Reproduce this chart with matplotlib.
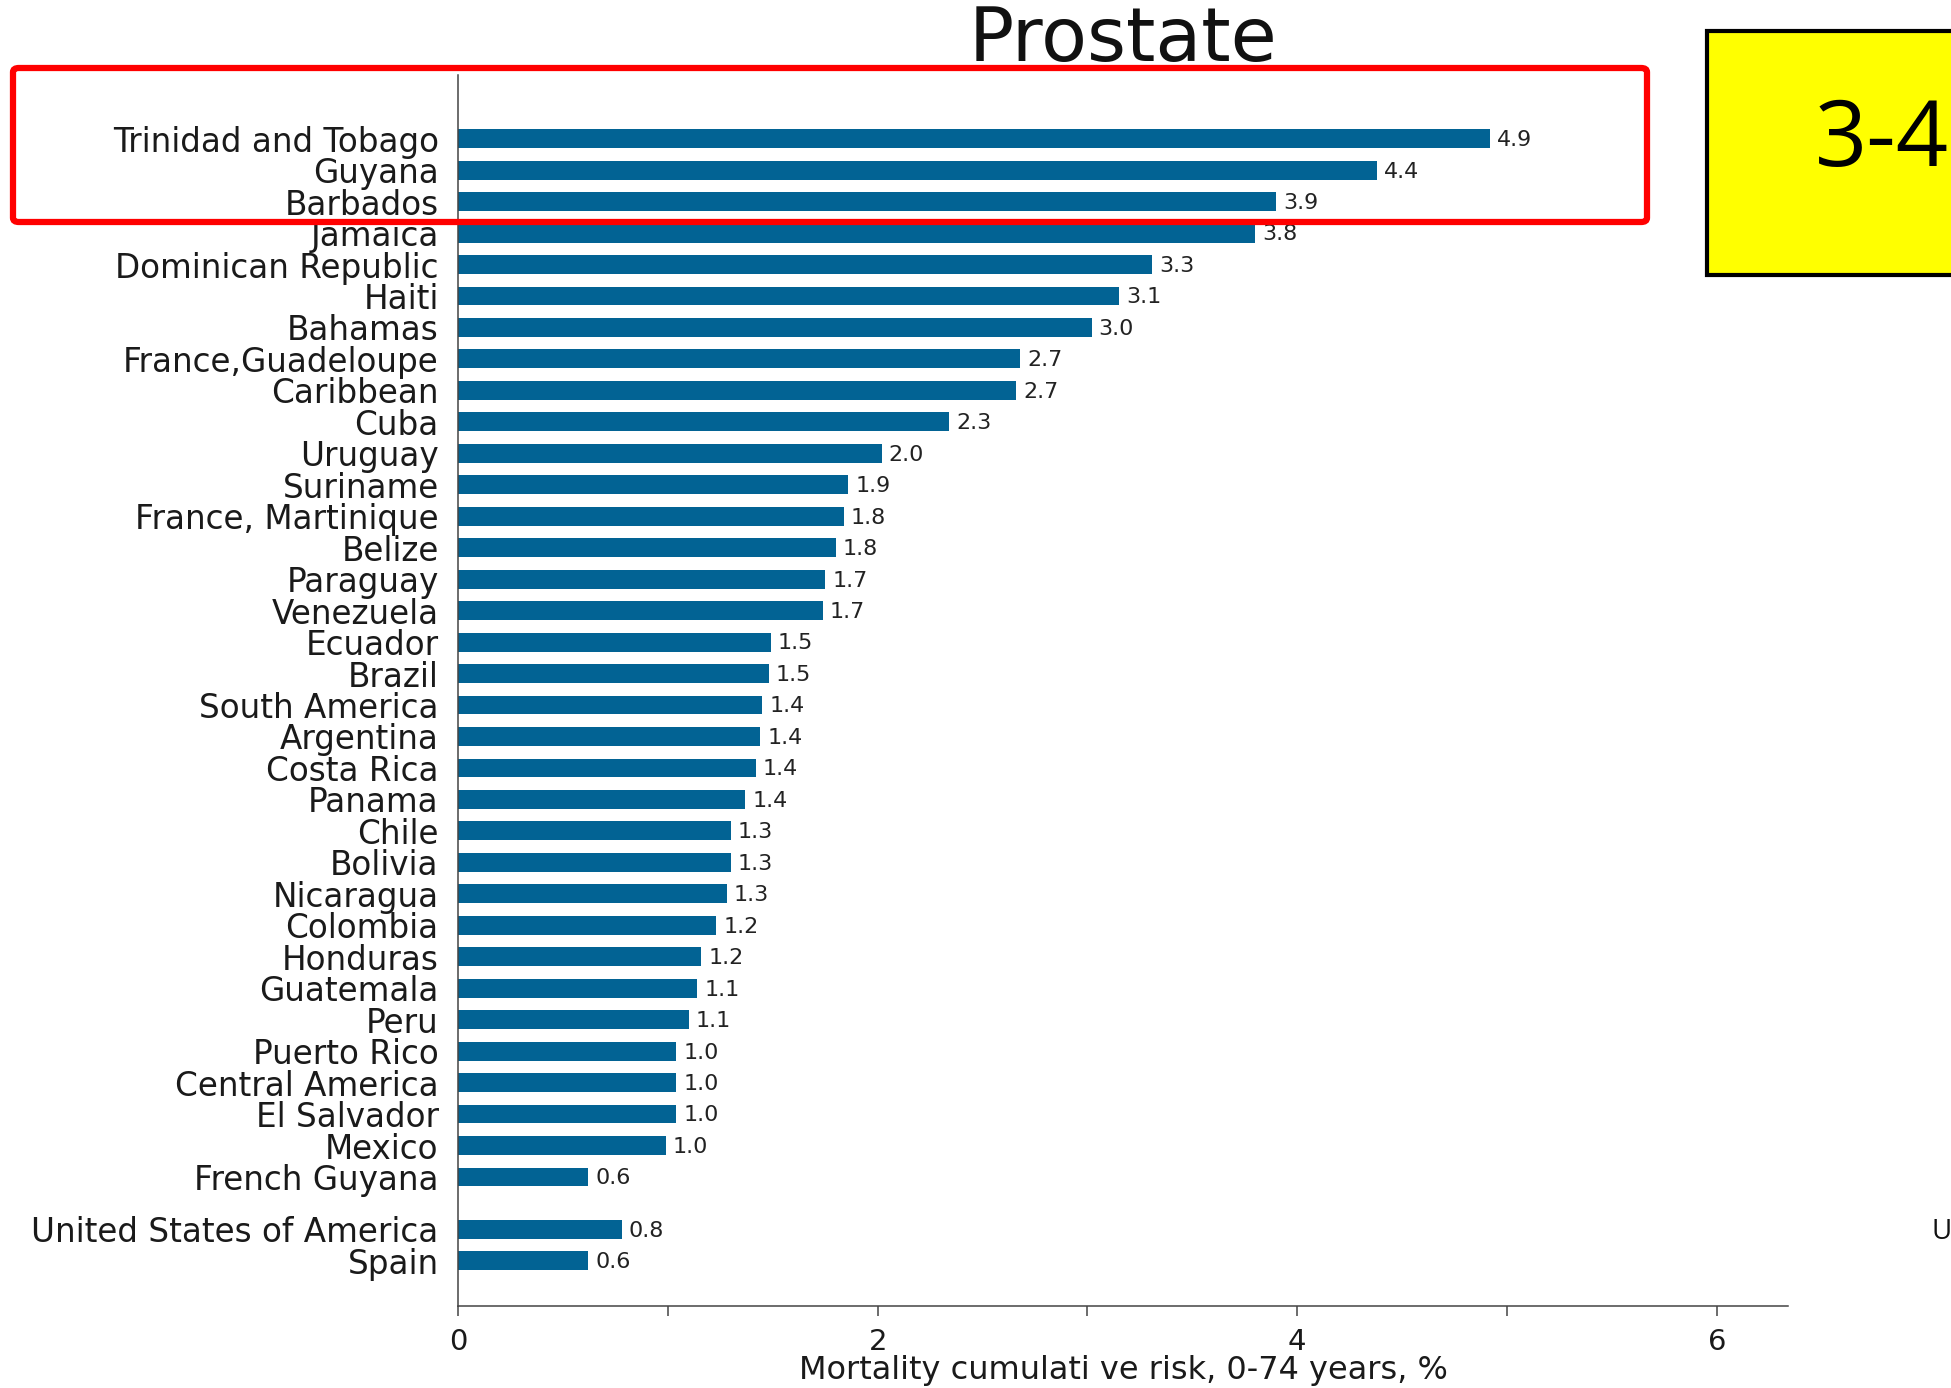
import numpy as np
import matplotlib
matplotlib.use("Agg")
import matplotlib.pyplot as plt
from matplotlib.patches import Rectangle, FancyBboxPatch


# Chart data (top to bottom)
COUNTRIES = ["Trinidad and Tobago", "Guyana", "Barbados", "Jamaica",
             "Dominican Republic", "Haiti", "Bahamas", "France,Guadeloupe",
             "Caribbean", "Cuba", "Uruguay", "Suriname", "France, Martinique",
             "Belize", "Paraguay", "Venezuela", "Ecuador", "Brazil",
             "South America", "Argentina", "Costa Rica", "Panama", "Chile",
             "Bolivia", "Nicaragua", "Colombia", "Honduras", "Guatemala",
             "Peru", "Puerto Rico", "Central America", "El Salvador", "Mexico",
             "French Guyana"]
RISK = [4.92, 4.38, 3.90, 3.80, 3.31, 3.15, 3.02, 2.68, 2.66, 2.34, 2.02,
        1.86, 1.84, 1.80, 1.75, 1.74, 1.49, 1.48, 1.45, 1.44, 1.42, 1.37,
        1.30, 1.30, 1.28, 1.23, 1.16, 1.14, 1.10, 1.04, 1.04, 1.04, 0.99,
        0.62]
RISK_LABELS = ["4.9", "4.4", "3.9", "3.8", "3.3", "3.1", "3.0", "2.7", "2.7",
               "2.3", "2.0", "1.9", "1.8", "1.8", "1.7", "1.7", "1.5", "1.5",
               "1.4", "1.4", "1.4", "1.4", "1.3", "1.3", "1.3", "1.2", "1.2",
               "1.1", "1.1", "1.0", "1.0", "1.0", "1.0", "0.6"]

# reference countries, drawn below a small gap
REF_COUNTRIES = ["United States of America", "Spain"]
REF_RISK = [0.78, 0.62]
REF_LABELS = ["0.8", "0.6"]

X_TICKS = [0, 1, 2, 3, 4, 5, 6]
X_TICK_LABELS = ["0", "", "2", "", "4", "", "6"]

BAR_COLOR = "#026394"
LABEL_FONT = "DejaVu Sans"

# y positions: one row per country, then a gap before the reference rows
y_main = np.arange(len(COUNTRIES))
y_ref = len(COUNTRIES) - 1 + 1.66 + np.arange(len(REF_COUNTRIES))
y_all = np.concatenate([y_main, y_ref])
names = COUNTRIES + REF_COUNTRIES
values = RISK + REF_RISK
labels = RISK_LABELS + REF_LABELS

FIG = plt.figure(figsize=(19.51, 13.88), dpi=100)
AX = FIG.add_axes([0.2348, 0.0591, 0.6817, 0.887])

AX.barh(y_all, values, height=0.6, color=BAR_COLOR)

for y, v, lab in zip(y_all, values, labels):
    AX.annotate(lab, (v, y), xytext=(5, -1), textcoords="offset points",
                ha="left", va="center", fontsize=16,
                family="DejaVu Sans", color="#222222")

AX.set_ylim(37.1, -2.03)
AX.set_xlim(0, 6.34)
AX.set_yticks(y_all)
AX.set_yticklabels(names, family=LABEL_FONT, fontsize=23.5, color="#1a1a1a")
AX.tick_params(axis="y", length=0, pad=14)
AX.set_xticks(X_TICKS)
AX.set_xticklabels(X_TICK_LABELS, family=LABEL_FONT, fontsize=21,
                   color="#1a1a1a")
AX.tick_params(axis="x", length=7, width=1.1, color="#444444", pad=9)

for side in ["top", "right"]:
    AX.spines[side].set_visible(False)
for side in ["left", "bottom"]:
    AX.spines[side].set_color("#444444")
    AX.spines[side].set_linewidth(1.1)

FIG.text(1123 / 1951, 1 - 1371 / 1388,
         "Mortality cumulati ve risk, 0-74 years, %",
         ha="center", va="center", family=LABEL_FONT, fontsize=23,
         color="#1a1a1a")

# Title
FIG.text(1123 / 1951, 1 - 61 / 1388, "Prostate", ha="center",
         va="baseline", family=LABEL_FONT, fontsize=54, color="#111111")

# red highlight box round the first three rows
FIG.add_artist(FancyBboxPatch((13 / 1951, 1 - 222 / 1388),
                              1634 / 1951, 154 / 1388,
                              boxstyle="round,pad=0,rounding_size=0.003",
                              transform=FIG.transFigure, fill=False,
                              edgecolor="#ff0000", linewidth=4.5,
                              zorder=10))

# yellow call-out box, cut by the right edge
FIG.add_artist(Rectangle((1707 / 1951, 1 - 275 / 1388), 0.2, 244 / 1388,
                         transform=FIG.transFigure, facecolor="#ffff00",
                         edgecolor="black", linewidth=3, zorder=10))
FIG.text(1815 / 1951, 1 - 142 / 1388, "3-4", ha="left", va="center",
         family="Open Sans", fontsize=66, color="black", zorder=11)

# stray letter at the right edge
FIG.text(1931 / 1951, 1 - 1232 / 1388, "U", ha="left", va="center",
         family="Open Sans", fontsize=20, color="#111111")

FIG.savefig("out.png", dpi=100)
